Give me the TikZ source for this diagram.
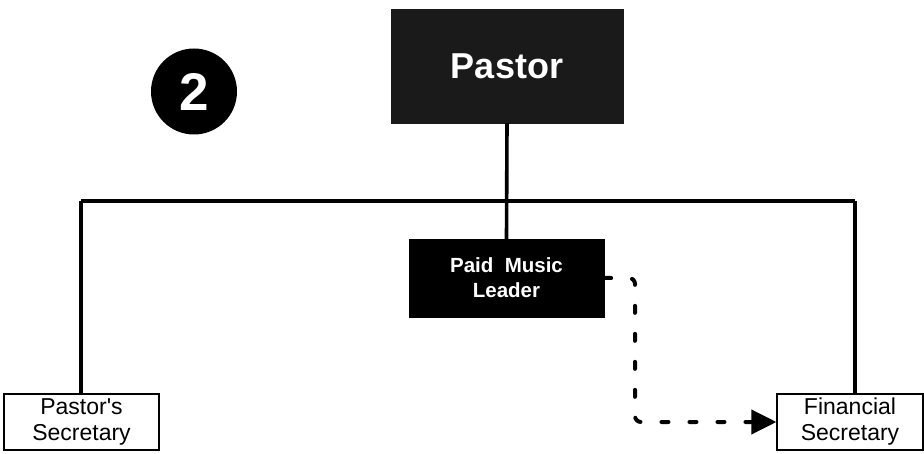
\documentclass[tikz,border=0pt]{standalone}
\usepackage{fontspec}
\setmainfont{Liberation Sans}
\usepackage{xcolor}
\usepackage{tikz}
\usetikzlibrary{positioning,arrows.meta,calc}
\definecolor{boxblack}{HTML}{1A1A1A}
\tikzset{
  headbox/.style={draw=boxblack,fill=boxblack,text=white,minimum width=232pt,
                  minimum height=114pt,inner sep=0pt,
                  font=\fontsize{36}{40}\selectfont\bfseries},
  staffbox/.style={draw=black,fill=black,text=white,minimum width=195pt,
                   minimum height=78pt,inner sep=0pt,align=center,
                   font=\fontsize{20.5}{25}\selectfont\bfseries},
  secbox/.style={draw=black,line width=1.2pt,fill=white,minimum height=56pt,
                 inner sep=0pt,align=center,font=\fontsize{23}{26}\selectfont},
  numcircle/.style={circle,fill=black,text=white,minimum size=86pt,inner sep=0pt,
                    font=\fontsize{53}{53}\selectfont\bfseries},
  orgline/.style={line width=3.6pt},
  dotarrow/.style={line width=4pt,line cap=round,dash pattern=on 7pt off 21pt,
                   rounded corners=6pt,-{Triangle[length=25pt,width=24pt]}},
}

\begin{document}
\begin{tikzpicture}[x=1pt,y=-1pt]
  \useasboundingbox (0,0) rectangle (924,454);
  % boxes
  \node[headbox]  (pastor) at (507,66)    {Pastor};
  \node[staffbox] (pml)    at (506.5,278) {Paid\ \ Music\\Leader};
  \node[secbox,minimum width=155pt] (psec) at (81.5,422) {Pastor\textquotesingle s\\Secretary};
  \node[secbox,minimum width=146pt] (fsec) at (850,422) {Financial\\Secretary};
  \node[numcircle] (num) at (194,91.5) {2};
  % bus
  \coordinate (busL) at (81,201);
  \coordinate (busR) at (855,201);
  \coordinate (bend) at (635,422);
  \draw[orgline] (pastor.south) -- (pml.north);
  \draw[orgline] (busL) -- (busR);
  \draw[orgline] (busL) -- (busL |- psec.north);
  \draw[orgline] (busR) -- (busR |- fsec.north);
  % dotted link
  \draw[dotarrow] (pml.east) -| (bend) -- (fsec.west);
\end{tikzpicture}
\end{document}
